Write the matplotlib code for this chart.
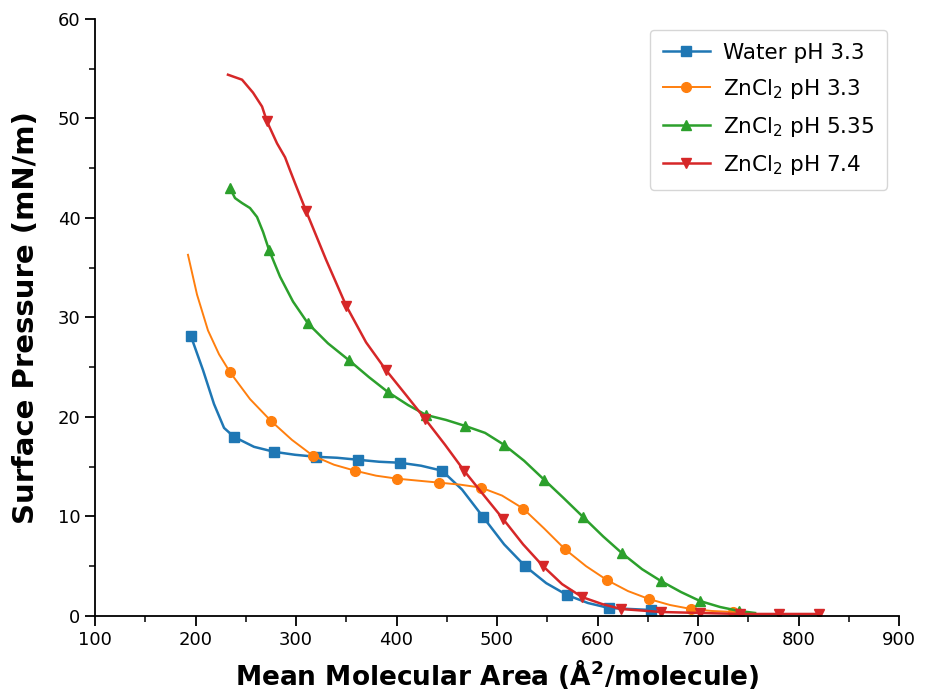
import matplotlib
matplotlib.use("Agg")
import matplotlib.pyplot as plt
from matplotlib.ticker import MultipleLocator

# ---- data ----
water_x = [195.5, 207.5, 218.4, 228.4, 238.3, 258.2, 278.1, 299.0, 319.9, 340.8, 361.7, 382.6,
           403.5, 424.4, 445.3, 465.2, 486.1, 507.0, 528.0, 548.9, 569.7, 590.5, 611.4, 653.2]
water_y = [28.1, 24.7, 21.3, 18.9, 18.0, 17.0, 16.5, 16.2, 16.0, 15.9, 15.7, 15.5,
           15.4, 15.1, 14.6, 12.7, 9.95, 7.2, 5.0, 3.3, 2.1, 1.3, 0.8, 0.6]
water_marks = [0, 4, 6, 8, 10, 12, 14, 16, 18, 20, 22, 23]

zn33_x = [192.5, 201.5, 212.4, 223.4, 234.3, 254.2, 275.1, 295.9, 316.9, 337.8, 358.7, 379.6,
          400.5, 421.4, 442.3, 463.2, 484.1, 505.0, 525.9, 546.8, 567.7, 588.6, 609.5, 630.3,
          651.2, 672.1, 693.0, 713.9, 734.8, 746.7]
zn33_y = [36.3, 32.3, 28.7, 26.3, 24.5, 21.8, 19.6, 17.7, 16.1, 15.2, 14.6, 14.1,
          13.8, 13.6, 13.4, 13.2, 12.9, 12.1, 10.8, 8.8, 6.7, 5.0, 3.6, 2.5,
          1.7, 1.1, 0.7, 0.5, 0.4, 0.3]
zn33_marks = [4, 6, 8, 10, 12, 14, 16, 18, 20, 22, 24, 26, 28]

zn535_x = [234.3, 239.3, 246.3, 254.2, 261.2, 267.2, 273.1, 284.1, 297.0, 311.9, 331.8, 352.7,
           372.6, 391.5, 411.4, 429.4, 449.3, 468.2, 488.1, 507.0, 526.9, 546.8, 565.7, 585.6,
           605.5, 624.4, 644.3, 663.2, 683.1, 702.0, 721.9, 740.8, 756.7]
zn535_y = [43.0, 42.0, 41.5, 41.0, 40.1, 38.6, 36.8, 34.1, 31.6, 29.4, 27.4, 25.7,
           24.0, 22.5, 21.2, 20.2, 19.7, 19.1, 18.4, 17.2, 15.6, 13.7, 11.9, 9.95,
           8.0, 6.3, 4.7, 3.5, 2.4, 1.5, 0.9, 0.5, 0.3]
zn535_marks = [0, 6, 9, 11, 13, 15, 17, 19, 21, 23, 25, 27, 29, 31]

zn74_x = [232.3, 246.3, 257.2, 266.2, 271.1, 281.1, 289.1, 294.0, 299.0, 310.0, 329.9, 349.8,
          369.7, 389.6, 409.5, 428.4, 448.3, 467.2, 487.1, 506.0, 525.9, 545.8, 564.7, 584.6,
          604.5, 623.4, 663.2, 702.0, 741.8, 780.6, 820.4]
zn74_y = [54.4, 53.9, 52.6, 51.2, 49.7, 47.5, 46.1, 44.8, 43.5, 40.7, 35.8, 31.2,
          27.5, 24.7, 22.2, 19.8, 17.2, 14.6, 12.1, 9.75, 7.2, 5.0, 3.2, 1.9,
          1.2, 0.7, 0.4, 0.3, 0.2, 0.2, 0.2]
zn74_marks = [4, 9, 11, 13, 15, 17, 19, 21, 23, 25, 26, 27, 28, 29, 30]

labels = ["Water pH 3.3", r"ZnCl$_2$ pH 3.3", r"ZnCl$_2$ pH 5.35", r"ZnCl$_2$ pH 7.4"]

fig = plt.figure(figsize=(9.25, 6.96), dpi=100)
ax = fig.add_axes([0.1027, 0.115, 0.8693, 0.8577])

ax.plot(water_x, water_y, color="#1f77b4", lw=1.8, marker="s", ms=7, markevery=water_marks, label=labels[0])
ax.plot(zn33_x, zn33_y, color="#ff7f0e", lw=1.4, marker="o", ms=7, markevery=zn33_marks, label=labels[1])
ax.plot(zn535_x, zn535_y, color="#2ca02c", lw=1.8, marker="^", ms=7, markevery=zn535_marks, label=labels[2])
ax.plot(zn74_x, zn74_y, color="#d62728", lw=1.8, marker="v", ms=7, markevery=zn74_marks, label=labels[3])

ax.set_xlim(100, 900)
ax.set_ylim(0, 60)
ax.xaxis.set_major_locator(MultipleLocator(100))
ax.xaxis.set_minor_locator(MultipleLocator(50))
ax.yaxis.set_major_locator(MultipleLocator(10))
ax.yaxis.set_minor_locator(MultipleLocator(5))
ax.spines["top"].set_visible(False)
ax.spines["right"].set_visible(False)
for s in ("left", "bottom"):
    ax.spines[s].set_linewidth(1.3)
ax.tick_params(which="major", direction="out", length=7, width=1.3, labelsize=13, colors="black")
ax.tick_params(which="minor", direction="out", length=4, width=1.1)

ax.set_xlabel(r"Mean Molecular Area (Å$^\mathbf{2}$/molecule)", fontsize=19, fontweight="bold", labelpad=7)
ax.set_ylabel("Surface Pressure (mN/m)", fontsize=21, fontweight="bold", labelpad=13)

leg = ax.legend(loc="upper right", bbox_to_anchor=(0.985, 0.982), borderaxespad=0,
                fontsize=15.5, labelspacing=0.65, handlelength=2.2, handletextpad=0.6,
                borderpad=0.6, frameon=True)
leg.get_frame().set_edgecolor("#cccccc")

fig.savefig("out.png", dpi=100)
